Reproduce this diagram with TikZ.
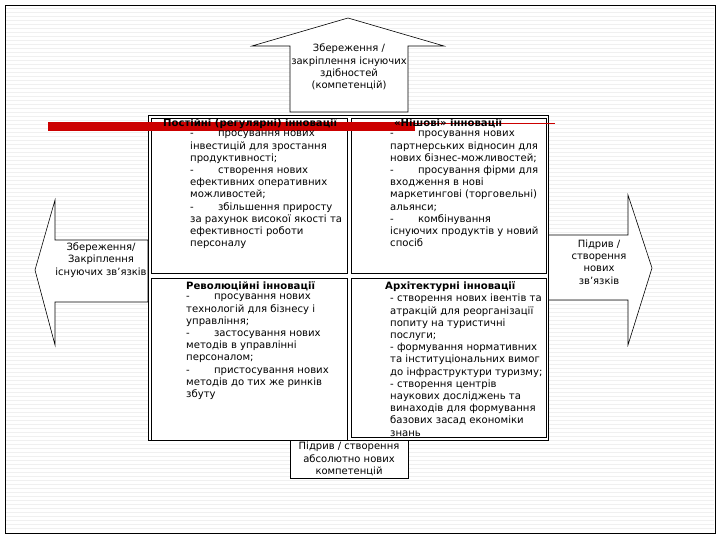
\documentclass[tikz,border=0pt]{standalone}
\usepackage{fontspec}
\setmainfont{DejaVu Sans}
\begin{document}
\begin{tikzpicture}[x=1pt,y=-1pt,
  box/.style={draw,semithick,fill=white},
  txt/.style={font=\fontsize{10.1}{12.2}\selectfont,align=left,anchor=north west,inner sep=0pt},
  ctxt/.style={font=\fontsize{10}{12.2}\selectfont,align=center,inner sep=0pt}]
\useasboundingbox (0,0) rectangle (720,540);
\draw[fill=white] (5,5) rectangle (715,533);
\foreach \y in {8,12,...,530} \draw[gray!12,very thin] (6,\y)--(714,\y);
% top arrow
\draw[box] (290,112)--(290,46)--(252,46)--(348,18)--(444,46)--(408,46)--(408,112)--cycle;
\node[ctxt] (ttop) at (349,67) {Збереження /\\закріплення існуючих\\здібностей\\(компетенцій)};
% left arrow
\draw[box] (148,240)--(55,240)--(55,200)--(35,270)--(55,345)--(55,302)--(148,302)--cycle;
\node[ctxt] (tleft) at (101,260) {Збереження/\\Закріплення\\існуючих зв'язків};
% right arrow
\draw[box] (548,235)--(628,235)--(628,195)--(652,268)--(628,345)--(628,300)--(548,300)--cycle;
\node[ctxt] (tright) at (599,262) {Підрив /\\створення\\нових\\зв'язків};
% outer
\draw[box] (148,115) rectangle (548,440);
\draw[box] (151,118) rectangle (347,273);
\draw[box] (351,118) rectangle (546,273);
\draw[box] (151,278) rectangle (347,440);
\draw[box] (351,278) rectangle (546,437);
% bottom box
\draw[box] (290,440) rectangle (408,478);
\node[ctxt] (tbot) at (349,459) {Підрив / створення\\абсолютно нових\\компетенцій};
% red bar
\fill[red!80!black] (48,122) rectangle (415,131);
\draw[red!80!black,thick] (415,123)--(555,123);
\node[txt] (q1t) at (163,118) {\textbf{Постійні (регулярні) інновації}};
\node[txt] (q1) at (190,131) {-\hspace{2.4em}просування нових\\інвестицій для зростання\\продуктивності;\\-\hspace{2.4em}створення нових\\ефективних оперативних\\можливостей;\\-\hspace{2.4em}збільшення приросту\\за рахунок високої якості та\\ефективності роботи\\персоналу};
\node[txt] (q2t) at (394,118) {\textbf{«Нішові» інновації}};
\node[txt] (q2) at (390,131) {-\hspace{2.4em}просування нових\\партнерських відносин для\\нових бізнес-можливостей;\\-\hspace{2.4em}просування фірми для\\входження в нові\\маркетингові (торговельні)\\альянси;\\-\hspace{2.4em}комбінування\\існуючих продуктів у новий\\спосіб};
\node[txt] (q3t) at (186,281) {\textbf{Революційні інновації}};
\node[txt] (q3) at (186,294) {-\hspace{2.4em}просування нових\\технологій для бізнесу і\\управління;\\-\hspace{2.4em}застосування нових\\методів в управлінні\\персоналом;\\-\hspace{2.4em}пристосування нових\\методів до тих же ринків\\збуту};
\node[txt] (q4t) at (385,281) {\textbf{Архітектурні інновації}};
\node[txt] (q4) at (390,294) {- створення нових івентів та\\атракцій для реорганізації\\попиту на туристичні\\послуги;\\- формування нормативних\\та інституціональних вимог\\до інфраструктури туризму;\\- створення центрів\\наукових досліджень та\\винаходів для формування\\базових засад економіки\\знань};
\end{tikzpicture}
\end{document}
